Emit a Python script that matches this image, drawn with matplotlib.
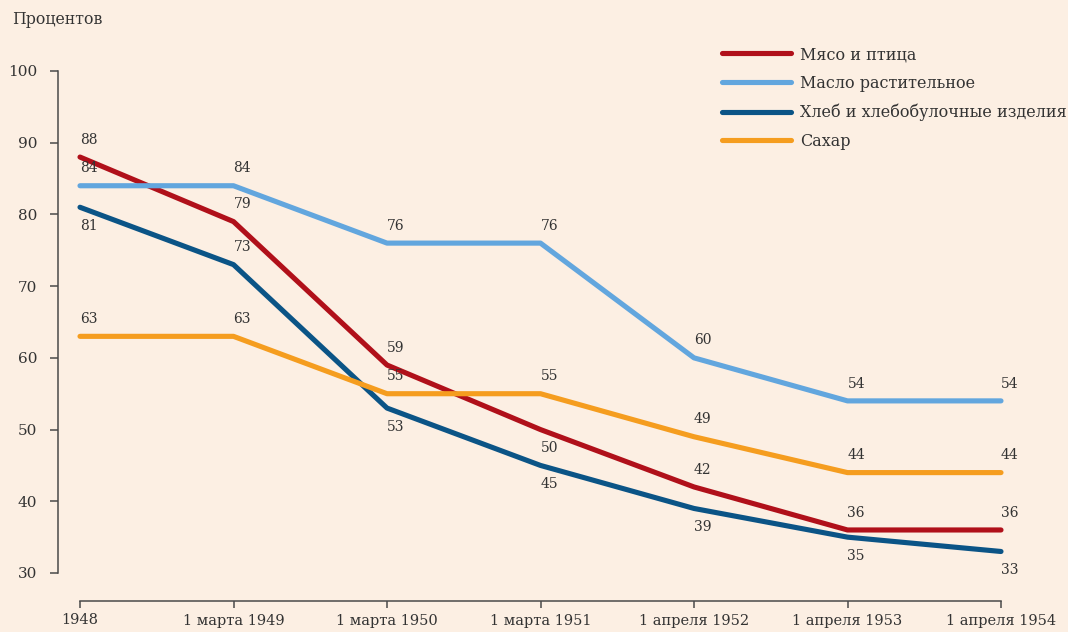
import matplotlib.pyplot as plt
import numpy as np

# Dates of price cuts and price index, percent of 1947 level
dates = ['1948', '1 марта 1949', '1 марта 1950', '1 марта 1951',
         '1 апреля 1952', '1 апреля 1953', '1 апреля 1954']
meat = [88, 79, 59, 50, 42, 36, 36]
oil = [84, 84, 76, 76, 60, 54, 54]
bread = [81, 73, 53, 45, 39, 35, 33]
sugar = [63, 63, 55, 55, 49, 44, 44]

names = ['Мясо и птица', 'Масло растительное',
         'Хлеб и хлебобулочные изделия', 'Сахар']
colors = ['#b0101a', '#62a6de', '#0b5486', '#f59d1f']
# +1 -> value label above the line, -1 -> below
label_side = [
    [1, 1, 1, -1, 1, 1, 1],
    [1, 1, 1, 1, 1, 1, 1],
    [-1, 1, -1, -1, -1, -1, -1],
    [1, 1, 1, 1, 1, 1, 1],
]

bg = '#fcefe3'
ink = '#333333'
plt.rcParams['font.family'] = ['DejaVu Serif']

W, H = 1068, 632
fig = plt.figure(figsize=(W / 100, H / 100), dpi=100, facecolor=bg)
ax = fig.add_axes([58 / W, (H - 601) / H, 1 - 58 / W, (601 - 60) / H])
ax.set_facecolor(bg)

x = np.arange(len(dates))
series = [meat, oil, bread, sugar]
for vals, name, col, sides in zip(series, names, colors, label_side):
    ax.plot(x, vals, color=col, lw=3.7, label=name,
            solid_capstyle='round', solid_joinstyle='round')
    for xi, v, s in zip(x, vals, sides):
        ax.annotate(str(v), (xi, v), xytext=(0, 12.5 if s > 0 else -13.5),
                    textcoords='offset points', ha='left',
                    va='center', fontsize=10, color=ink)

px_x = 153.5
ax.set_xlim(-22 / px_x, 6 + 67 / px_x)
px_y = (573 - 71) / 70
ax.set_ylim(30 - 28 / px_y, 100 + 11 / px_y)

for s in ['top', 'right']:
    ax.spines[s].set_visible(False)
ax.spines['left'].set_bounds(30, 100)
ax.spines['bottom'].set_bounds(0, 6)
for s in ['left', 'bottom']:
    ax.spines[s].set_color('#4a4a4a')
    ax.spines[s].set_linewidth(1.1)

ax.set_yticks(np.arange(30, 101, 10))
ax.set_xticks(x)
ax.set_xticklabels(dates)
ax.tick_params(axis='y', direction='out', length=6, width=1.1,
               color='#4a4a4a', pad=9, labelsize=11, labelcolor=ink)
ax.tick_params(axis='x', direction='out', length=5, width=1.1,
               color='#4a4a4a', pad=4, labelsize=10.5, labelcolor=ink)

fig.text(12 / W, 1 - 20 / H, 'Процентов', ha='left',
         va='center', fontsize=11.3, color=ink)

leg = ax.legend(loc='upper left', bbox_to_anchor=(722 / W, 1 - 46 / H),
                bbox_transform=fig.transFigure, frameon=False,
                fontsize=11.5, handlelength=4.3, handletextpad=0.6,
                labelspacing=0.74, borderpad=0, borderaxespad=0)
for t in leg.get_texts():
    t.set_color(ink)

fig.savefig('out.png', dpi=100, facecolor=bg)
